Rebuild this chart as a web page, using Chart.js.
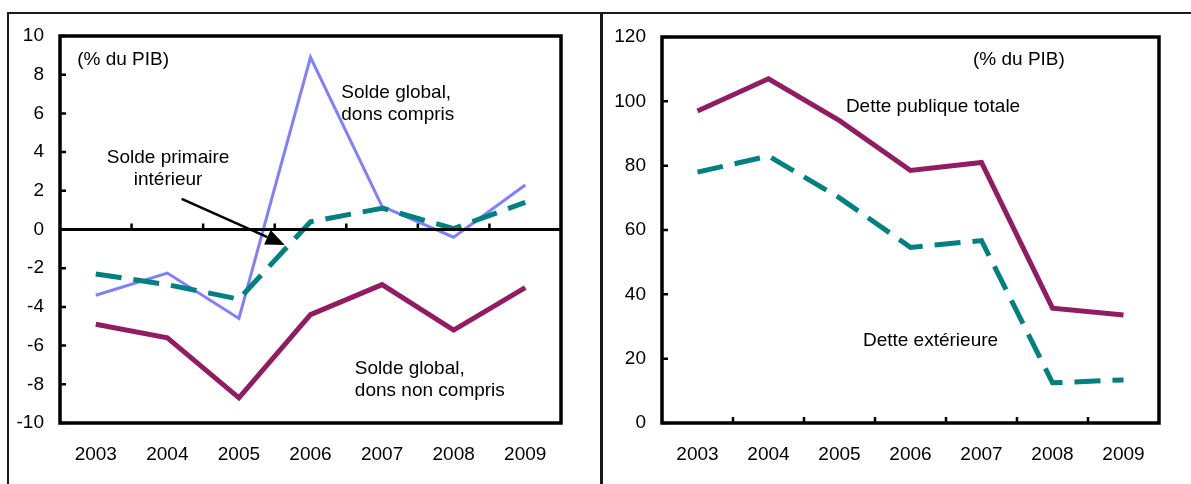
<!DOCTYPE html>
<html>
<head>
<meta charset="utf-8">
<script src="https://cdn.jsdelivr.net/npm/chart.js@4.4.1/dist/chart.umd.min.js"></script>
<style>
  html, body { margin: 0; padding: 0; background: #fff; }
  #page { position: relative; width: 1191px; height: 484px; overflow: hidden; }
  .rule { position: absolute; background: #1a1a1a; }
  .box { position: absolute; top: 0; height: 484px; }
</style>
</head>
<body>
<div id="page">
  <div class="rule" style="left:7px; top:12px; width:1184px; height:2px;"></div>
  <div class="rule" style="left:7px; top:12px; width:2px; height:472px;"></div>
  <div class="rule" style="left:600px; top:12px; width:3px; height:472px;"></div>
  <div class="box" style="left:0; width:600px;"><canvas id="left-chart"></canvas></div>
  <div class="box" style="left:602px; width:589px;"><canvas id="right-chart"></canvas></div>
</div>
<script>
// ---------------------------------------------------------------------------
// Data (% du PIB)
// ---------------------------------------------------------------------------

const YEARS = ["2003", "2004", "2005", "2006", "2007", "2008", "2009"];

// left panel: budget balances
const soldeGlobalDons = [-3.4, -2.25, -4.6, 8.9, 1.2, -0.4, 2.3];
const soldePrimaire = [-2.3, -2.85, -3.6, 0.4, 1.1, 0.05, 1.4];
const soldeGlobalHorsDons = [-4.9, -5.6, -8.7, -4.4, -2.85, -5.2, -3.0];
const LEFT_TICKS = [-10, -8, -6, -4, -2, 0, 2, 4, 6, 8, 10];

// right panel: debt
const detteTotale = [97, 107, 94, 78.5, 81, 35.7, 33.6];
const detteExterieure = [78, 83, 70, 54.6, 56.7, 12.5, 13.4];
const RIGHT_TICKS = [0, 20, 40, 60, 80, 100, 120];

// text labels, placed in data units (category index, value)
const LEFT_LABELS = [
  { lines: ["(% du PIB)"], x: -0.26, y: 8.76, align: "left" },
  { lines: ["Solde global,", "dons compris"], x: 3.43, y: 7.05, align: "left" },
  { lines: ["Solde primaire", "intérieur"], x: 1.01, y: 3.7, align: "center" },
  { lines: ["Solde global,", "dons non compris"], x: 3.62, y: -7.2, align: "left" },
];
const LEFT_ARROW = { from: [1.2, 1.58], to: [2.64, -0.8] };

const RIGHT_LABELS = [
  { lines: ["(% du PIB)"], x: 3.88, y: 112.8, align: "left" },
  { lines: ["Dette publique totale"], x: 2.09, y: 98.2, align: "left" },
  { lines: ["Dette extérieure"], x: 2.33, y: 25.5, align: "left" },
];

// ---------------------------------------------------------------------------
// Styles
// ---------------------------------------------------------------------------

const FONT = "'Liberation Sans', Arial, sans-serif";
const LIGHT_BLUE = "#8080ff";
const TEAL = "#008080";
const PLUM = "#921c62";

Chart.defaults.font.family = FONT;
Chart.defaults.font.size = 19;
Chart.defaults.color = "#000";

// frame, zero line, small ticks, text labels and arrow
const decorations = {
  id: "decorations",
  afterDatasetsDraw(chart, args, opts) {
    const { ctx, chartArea: a } = chart;
    const xs = chart.scales.x;
    const ys = chart.scales.y;
    ctx.save();
    ctx.strokeStyle = "#000";

    // axis line carrying the category ticks
    const baseY = ys.getPixelForValue(opts.baseline);
    if (opts.baseline !== ys.min) {
      ctx.lineWidth = 3;
      ctx.beginPath();
      ctx.moveTo(a.left, baseY);
      ctx.lineTo(a.right, baseY);
      ctx.stroke();
    }

    ctx.lineWidth = 2.5;
    ctx.beginPath();
    for (let i = 1; i < YEARS.length; i++) {
      const px = (xs.getPixelForValue(i - 1) + xs.getPixelForValue(i)) / 2;
      ctx.moveTo(px, baseY);
      ctx.lineTo(px, baseY - 6);
    }
    opts.ticks.forEach(v => {
      const py = ys.getPixelForValue(v);
      ctx.moveTo(a.left, py);
      ctx.lineTo(a.left + 6, py);
    });
    ctx.stroke();

    // plot box
    ctx.lineWidth = 3.5;
    ctx.lineJoin = "miter";
    ctx.strokeRect(a.left, a.top, a.right - a.left, a.bottom - a.top);

    // labels
    ctx.fillStyle = "#000";
    ctx.font = `19px ${FONT}`;
    ctx.textBaseline = "middle";
    opts.labels.forEach(l => {
      const px = xs.getPixelForValue(l.x);
      const py = ys.getPixelForValue(l.y);
      ctx.textAlign = l.align;
      l.lines.forEach((line, k) => ctx.fillText(line, px, py + k * 22));
    });

    // arrow
    if (opts.arrow) {
      const x1 = xs.getPixelForValue(opts.arrow.from[0]);
      const y1 = ys.getPixelForValue(opts.arrow.from[1]);
      const x2 = xs.getPixelForValue(opts.arrow.to[0]);
      const y2 = ys.getPixelForValue(opts.arrow.to[1]);
      const ang = Math.atan2(y2 - y1, x2 - x1);
      const head = 19;
      const bx = x2 - head * Math.cos(ang);
      const by = y2 - head * Math.sin(ang);
      ctx.lineWidth = 2.5;
      ctx.beginPath();
      ctx.moveTo(x1, y1);
      ctx.lineTo(bx, by);
      ctx.stroke();
      ctx.beginPath();
      ctx.moveTo(x2, y2);
      ctx.lineTo(bx + 8 * Math.sin(ang), by - 8 * Math.cos(ang));
      ctx.lineTo(bx - 8 * Math.sin(ang), by + 8 * Math.cos(ang));
      ctx.closePath();
      ctx.fill();
    }
    ctx.restore();
  },
};

function lineSet(data, color, width, dashed) {
  return {
    data,
    borderColor: color,
    borderWidth: width,
    borderDash: dashed ? [26, 12] : [],
    pointRadius: 0,
    tension: 0,
    fill: false,
  };
}

function makeChart(canvasId, datasets, yMin, yMax, ticks, padRight, padTop, deco) {
  return new Chart(document.getElementById(canvasId), {
    type: "line",
    data: { labels: YEARS, datasets },
    plugins: [decorations],
    options: {
      responsive: true,
      maintainAspectRatio: false,
      animation: false,
      layout: { padding: { left: 0, right: padRight, top: padTop, bottom: 0 } },
      plugins: { legend: { display: false }, tooltip: { enabled: false }, decorations: deco },
      scales: {
        x: {
          offset: true,
          grid: { display: false },
          border: { display: false },
          ticks: { padding: 12, maxRotation: 0 },
          afterFit(scale) { scale.height = 61; },
        },
        y: {
          min: yMin,
          max: yMax,
          grid: { display: false },
          border: { display: false },
          ticks: { stepSize: ticks[1] - ticks[0], padding: 8 },
          afterFit(scale) { scale.width = 60; },
        },
      },
    },
  });
}

makeChart("left-chart", [
  lineSet(soldeGlobalHorsDons, PLUM, 5, false),
  lineSet(soldePrimaire, TEAL, 5, true),
  lineSet(soldeGlobalDons, LIGHT_BLUE, 3, false),
], -10, 10, LEFT_TICKS, 39, 36, { baseline: 0, ticks: LEFT_TICKS, labels: LEFT_LABELS, arrow: LEFT_ARROW });

makeChart("right-chart", [
  lineSet(detteExterieure, TEAL, 5, true),
  lineSet(detteTotale, PLUM, 5, false),
], 0, 120, RIGHT_TICKS, 32, 37, { baseline: 0, ticks: RIGHT_TICKS, labels: RIGHT_LABELS, arrow: null });
</script>
</body>
</html>
